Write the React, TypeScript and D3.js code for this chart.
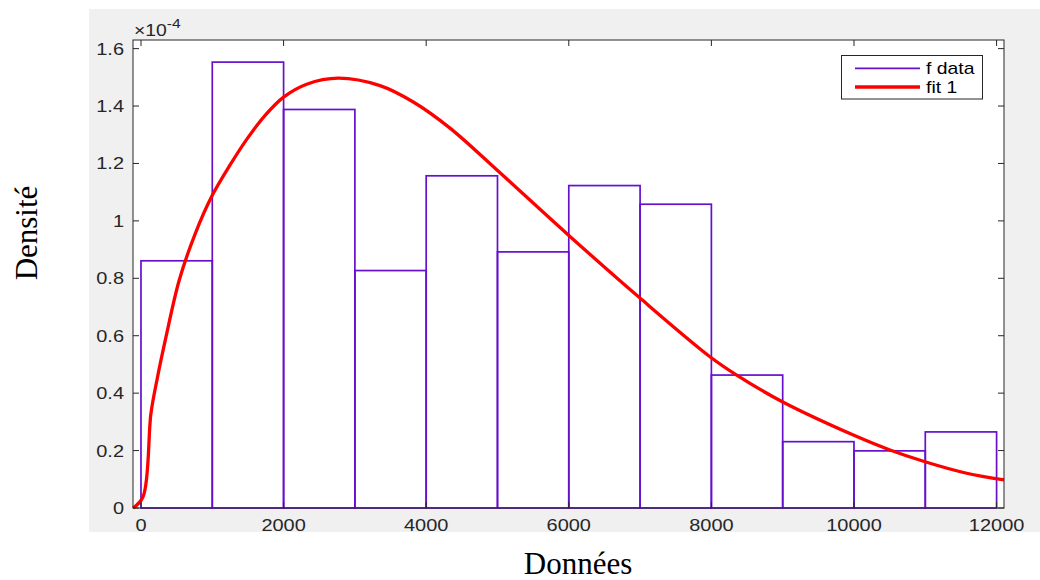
import React from "react";
import * as d3 from "d3";

const binStarts = [0, 1000, 2000, 3000, 4000, 5000, 6000, 7000, 8000, 9000, 10000, 11000];
const binWidth = 1000;
const densities = [0.861, 1.553, 1.388, 0.827, 1.157, 0.892, 1.123, 1.058, 0.463, 0.231, 0.199, 0.265];

const fitX = [-110, 30, 140, 224, 350, 537, 760, 991, 1250, 1500, 1750, 2000, 2324, 2767, 3352, 3819, 4334, 4989, 5993, 6999, 7980, 8355, 8995, 9991, 10505, 10996, 11581, 12104];
const fitY = [0, 0.04, 0.33, 0.446, 0.595, 0.794, 0.955, 1.085, 1.195, 1.29, 1.37, 1.431, 1.476, 1.497, 1.471, 1.414, 1.323, 1.178, 0.951, 0.731, 0.527, 0.463, 0.37, 0.254, 0.202, 0.161, 0.121, 0.0976];

const xTicks = [0, 2000, 4000, 6000, 8000, 10000, 12000];
const yTicks = [0, 0.2, 0.4, 0.6, 0.8, 1, 1.2, 1.4, 1.6];
const legendLabels = ["f data", "fit 1"];

const W = 1040, H = 580;
const L = 133, R = 1004, T = 40, B = 508;
const PURPLE = "#6610cc";
const RED = "#ff0000";
const AX = "#262626";
const FONT = "'Liberation Sans', Arial, Helvetica, sans-serif";
const SERIF = "'Liberation Serif', 'Times New Roman', serif";
const SX = 1.21;

function SText(props: { x: number; y: number; anchor?: string; size: number; fill?: string; children: React.ReactNode }) {
  return (
    <g transform={`translate(${props.x},${props.y}) scale(${SX},1)`}>
      <text x={0} y={0} textAnchor={props.anchor || "start"} fontFamily={FONT} fontSize={props.size} fill={props.fill || AX}>
        {props.children}
      </text>
    </g>
  );
}

export default function App() {
  const x = d3.scaleLinear().domain([-112, 12104]).range([L, R]);
  const y = d3.scaleLinear().domain([0, 1.63]).range([B, T]);
  const line = d3
    .line<number>()
    .x((_, i) => x(fitX[i]))
    .y((d) => y(d))
    .curve(d3.curveCatmullRom.alpha(0.5));
  const tl = 6;
  return (
    <svg width={W} height={H} style={{ position: "absolute", left: 0, top: 0 }}>
      <rect x={0} y={0} width={W} height={H} fill="#ffffff" />
      <rect x={89} y={9} width={W - 89} height={532 - 9} fill="#f0f0f0" />
      <rect x={L} y={T} width={R - L} height={B - T} fill="#ffffff" />
      {binStarts.map((s, i) => (
        <rect
          key={i}
          x={x(s)}
          y={y(densities[i])}
          width={x(s + binWidth) - x(s)}
          height={y(0) - y(densities[i])}
          fill="none"
          stroke={PURPLE}
          strokeWidth={1.7}
        />
      ))}
      <path d={line(fitY) || ""} fill="none" stroke={RED} strokeWidth={3.3} strokeLinejoin="round" />
      <rect x={L} y={T} width={R - L} height={B - T} fill="none" stroke={AX} strokeWidth={1} />
      {xTicks.map((t) => (
        <g key={"x" + t}>
          <line x1={x(t)} x2={x(t)} y1={B} y2={B - tl} stroke={AX} />
          <line x1={x(t)} x2={x(t)} y1={T} y2={T + tl} stroke={AX} />
          <SText x={x(t)} y={531} anchor="middle" size={16.5}>{t}</SText>
        </g>
      ))}
      {yTicks.map((t) => (
        <g key={"y" + t}>
          <line x1={L} x2={L + tl} y1={y(t)} y2={y(t)} stroke={AX} />
          <line x1={R} x2={R - tl} y1={y(t)} y2={y(t)} stroke={AX} />
          <SText x={124} y={y(t) + 6} anchor="end" size={16.5}>{t}</SText>
        </g>
      ))}
      <g transform="translate(134,35.5) scale(1.21,1)">
        <text x={0} y={0} fontFamily={FONT} fontSize={16} fill={AX}>
          {"\u00d7"}10
          <tspan dy={-8} fontSize={13}>-4</tspan>
        </text>
      </g>
      <rect x={841.5} y={55.5} width={141} height={43.5} fill="#ffffff" stroke={AX} strokeWidth={1} />
      <line x1={855} x2={920} y1={68.3} y2={68.3} stroke={PURPLE} strokeWidth={1.7} />
      <line x1={855} x2={920} y1={87} y2={87} stroke={RED} strokeWidth={3.3} />
      <SText x={926} y={74} size={16} fill="#000">{legendLabels[0]}</SText>
      <SText x={926} y={93} size={16} fill="#000">{legendLabels[1]}</SText>
      <text x={578} y={574} textAnchor="middle" fontFamily={SERIF} fontSize={31} fill="#000">
        Données
      </text>
      <text
        transform={`translate(37,233) rotate(-90)`}
        textAnchor="middle"
        fontFamily={SERIF}
        fontSize={31}
        fill="#000"
      >
        Densité
      </text>
    </svg>
  );
}
